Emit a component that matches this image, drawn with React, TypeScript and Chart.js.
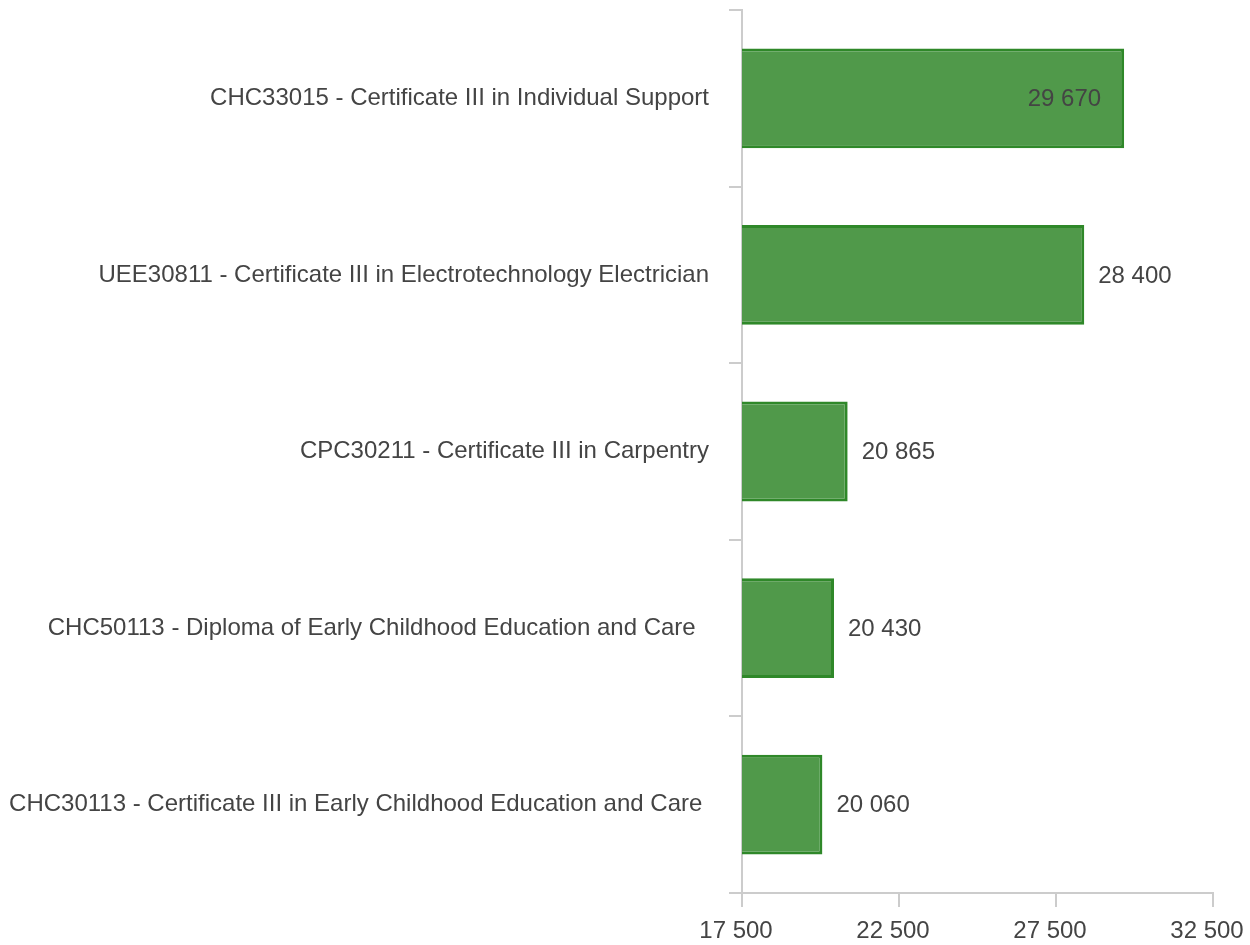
import React, { useEffect, useRef } from "react";
import { Chart, registerables } from "chart.js";

Chart.register(...registerables);

const categories: string[] = [
  "CHC33015 - Certificate III in Individual Support",
  "UEE30811 - Certificate III in Electrotechnology Electrician",
  "CPC30211 - Certificate III in Carpentry",
  "CHC50113 - Diploma of Early Childhood Education and Care  ",
  "CHC30113 - Certificate III in Early Childhood Education and Care ",
];
const values: number[] = [29670, 28400, 20865, 20430, 20060];
const xTicks: number[] = [17500, 22500, 27500, 32500];

const FONT = "'Liberation Sans', Arial, sans-serif";
const TEXT = "#444444";
const AXIS = "#cccccc";
const FS = 24;

const fmt = (v: number) => {
  const s = Math.round(v).toString();
  return s.replace(/\B(?=(\d{3})+(?!\d))/g, " ");
};

const valueLabels = {
  id: "valueLabels",
  afterDatasetsDraw(chart: any) {
    const ctx = chart.ctx;
    const meta = chart.getDatasetMeta(0);
    const area = chart.chartArea;
    ctx.save();
    ctx.font = `${FS}px ${FONT}`;
    ctx.fillStyle = TEXT;
    ctx.textBaseline = "middle";
    meta.data.forEach((bar: any, i: number) => {
      const text = fmt(values[i]);
      const w = ctx.measureText(text).width;
      const outsideX = bar.x + 14;
      if (outsideX + w > area.right - 15) {
        ctx.textAlign = "right";
        ctx.fillText(text, bar.x - 23, bar.y + 1);
      } else {
        ctx.textAlign = "left";
        ctx.fillText(text, outsideX, bar.y + 1);
      }
    });
    ctx.restore();
  },
};

export default function App() {
  const ref = useRef<HTMLCanvasElement | null>(null);
  useEffect(() => {
    if (!ref.current) return;
    const chart = new Chart(ref.current, {
      type: "bar",
      data: {
        labels: categories,
        datasets: [
          {
            data: values,
            backgroundColor: "#50994a",
            borderColor: "#2f8829",
            borderWidth: 3,
            barPercentage: 0.565,
            categoryPercentage: 1,
          },
        ],
      },
      options: {
        indexAxis: "y",
        animation: false,
        responsive: false,
        maintainAspectRatio: false,
        layout: { padding: { top: 10, right: 37, left: 0, bottom: 0 } },
        plugins: {
          legend: { display: false },
          tooltip: { enabled: false },
        },
        scales: {
          x: {
            min: xTicks[0],
            max: xTicks[xTicks.length - 1],
            afterBuildTicks: (scale: any) => {
              scale.ticks = xTicks.map((v) => ({ value: v }));
            },
            afterFit: (scale: any) => {
              scale.height = 52;
              scale.paddingLeft = 0;
              scale.paddingRight = 0;
            },
            ticks: {
              color: TEXT,
              font: { family: FONT, size: FS },
              padding: 10,
              labelOffset: -6,
              maxRotation: 0,
              autoSkip: false,
              callback: (v: any) => fmt(Number(v)),
            },
            grid: {
              drawOnChartArea: false,
              drawTicks: true,
              tickLength: 14,
              color: AXIS,
              lineWidth: 2,
            },
            border: { display: true, color: AXIS, width: 2 },
          },
          y: {
            afterFit: (scale: any) => {
              scale.width = 742;
              scale.paddingTop = 0;
              scale.paddingBottom = 0;
            },
            ticks: {
              color: TEXT,
              font: { family: FONT, size: FS },
              padding: 20,
              autoSkip: false,
            },
            grid: {
              offset: true,
              drawOnChartArea: false,
              drawTicks: true,
              tickLength: 13,
              color: AXIS,
              lineWidth: 2,
            },
            border: { display: true, color: AXIS, width: 2 },
          },
        },
      },
      plugins: [valueLabels],
    });
    return () => chart.destroy();
  }, []);
  return (
    <div style={{ position: "fixed", left: 0, top: 0, width: 1250, height: 945, background: "#fff" }}>
      <canvas ref={ref} width={1250} height={945} style={{ width: 1250, height: 945, display: "block" }} />
    </div>
  );
}
